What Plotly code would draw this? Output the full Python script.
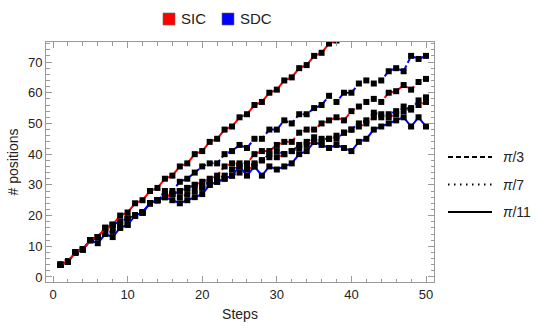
import plotly.graph_objects as go

steps = list(range(1, 51))

# SIC (red) series
sic_pi3 = [4, 5, 8, 9, 12, 13, 16, 17, 18, 19, 20, 21, 24, 25, 26, 27, 28, 29, 30, 31,
           32, 33, 36, 37, 37, 37, 40, 41, 41, 43, 44, 44, 47, 48, 48, 50, 51, 52, 51, 54,
           55.5, 57, 58, 57, 60, 60.5, 62.5, 61, 63.5, 64.5]
sic_pi7 = [4, 5, 8, 9, 12, 13, 14, 15, 16, 17, 20, 21, 24, 25, 26, 27, 26, 27, 28, 29,
           30, 31, 32, 33, 34, 35, 36, 38, 39, 39, 40, 41, 42, 43, 44, 44, 45, 46, 47, 48,
           49, 50, 52, 52, 52, 53, 54, 55, 56, 57]
sic_pi11 = [4, 5, 8, 9, 12, 13, 16, 17, 20, 21, 24, 25, 28, 29, 32, 33, 36, 37, 40, 41,
            44, 45, 48, 49, 52, 53, 56, 57, 60, 61, 64, 65, 68, 69, 72, 73, 76, 77, 80, 81,
            84, 85, 88, 89, 92, 93, 96, 97, 100, 101]

# SDC (blue) series
sdc_pi3 = [4, 5, 8, 9, 12, 13, 16, 17, 18, 19, 20, 21, 24, 25, 27, 28, 31, 32, 34, 36,
           37, 37, 40, 41, 43, 42, 45, 45, 48, 48, 51, 50, 53, 53, 55, 56, 59, 57, 60, 60,
           63, 64, 63, 64, 67, 68, 67, 72, 71, 72]
sdc_pi7 = [4, 5, 8, 9, 12, 13, 16, 17, 18, 19, 20, 21, 24, 25, 28, 27, 28, 29, 30, 30,
           31, 32, 33, 35, 36, 36, 37, 38, 40, 41, 40, 41, 43, 44, 45.5, 45, 45, 45, 47, 48,
           50, 51, 53.5, 53, 53, 54, 55.5, 54.5, 57.5, 58.5]
sdc_pi11 = [4, 5, 8, 9, 12, 11, 14, 13, 16, 17, 20, 21, 24, 25, 26, 25, 24, 25, 26, 27,
            30, 31, 32, 33, 36, 33, 36, 33, 36, 35, 36, 37, 40, 41, 44, 43, 42, 43, 42, 41,
            44, 45, 48, 49, 50, 51, 52, 49, 52, 49]

x_ticks = [0, 10, 20, 30, 40, 50]
y_ticks = [0, 10, 20, 30, 40, 50, 60, 70]
scheme_labels = ["SIC", "SDC"]
angle_labels = ["<i>π</i>/3", "<i>π</i>/7", "<i>π</i>/11"]

RED = "#ff0000"
BLUE = "#0000ff"
DASH = "5px,3px"
DOT = "1.5px,4px"
FONT = "Liberation Sans, Arial, sans-serif"
TXT = "#222222"

# plot area in pixels
L, R, T, B = 46, 434, 42, 282
W, H = 545, 330
def px(xp):
    return (xp - L) / (R - L)
def py(yp):
    return 1 - (yp - T) / (B - T)

fig = go.Figure()

series = [
    (sic_pi3, RED, DASH), (sic_pi7, RED, DOT),
    (sdc_pi3, BLUE, DASH), (sdc_pi7, BLUE, DOT),
    (sdc_pi11, BLUE, "solid"), (sic_pi11, RED, "solid"),
]
for vals, col, dash in series:
    fig.add_trace(go.Scatter(
        x=steps, y=vals, mode="lines+markers", showlegend=False,
        line=dict(color=col, width=2, dash=dash),
        marker=dict(symbol="square", size=6, color="black", line=dict(width=0)),
    ))

# top legend (colour = scheme)
for lab, col, x0 in zip(scheme_labels, [RED, BLUE], [163, 222]):
    fig.add_shape(type="rect", xref="paper", yref="paper",
                  x0=px(x0), x1=px(x0 + 12), y0=py(25), y1=py(13),
                  fillcolor=col, line=dict(color="#666666", width=0.6))
    fig.add_annotation(xref="paper", yref="paper", x=px(x0 + 16), y=py(19),
                       text=lab, showarrow=False, xanchor="left", yanchor="middle",
                       font=dict(family=FONT, size=15, color=TXT))

# right legend (dash = angle)
key_dasharray = ["5px,3px", "1.5px,4.5px", "solid"]
for i, (lab, da) in enumerate(zip(angle_labels, key_dasharray)):
    yp = py(157 + i * 27.5)
    fig.add_shape(type="line", xref="paper", yref="paper",
                  x0=px(448), x1=px(492), y0=yp, y1=yp,
                  line=dict(color="black", width=2, dash=da))
    fig.add_annotation(xref="paper", yref="paper", x=px(501), y=yp,
                       text=lab, showarrow=False, xanchor="left", yanchor="middle",
                       font=dict(family=FONT, size=14, color=TXT))

axis_common = dict(
    showline=True, linecolor="#9a9a9a", linewidth=1, mirror="allticks",
    ticks="inside", ticklen=6, tickcolor="#9a9a9a", tickwidth=1,
    showgrid=False, zeroline=False, automargin=False,
    tickfont=dict(family=FONT, size=13, color=TXT),
    minor=dict(ticks="inside", ticklen=3.5, tickcolor="#9a9a9a", dtick=2, showgrid=False),
)

fig.update_layout(
    width=W, height=H,
    margin=dict(l=L, r=W - R, t=T, b=H - B),
    plot_bgcolor="white", paper_bgcolor="white",
    font=dict(family=FONT, size=13, color=TXT),
    xaxis=dict(range=[-0.94, 51.07], tickvals=x_ticks,
               title=dict(text="Steps", font=dict(family=FONT, size=14, color=TXT), standoff=8),
               **axis_common),
    yaxis=dict(range=[-1.63, 76.52], tickvals=y_ticks,
               title=dict(text="# positions", font=dict(family=FONT, size=14, color=TXT), standoff=6),
               **axis_common),
    showlegend=False,
)

fig.write_html("out.html", config={"displayModeBar": False},
               post_script="document.body.style.margin='0';")
